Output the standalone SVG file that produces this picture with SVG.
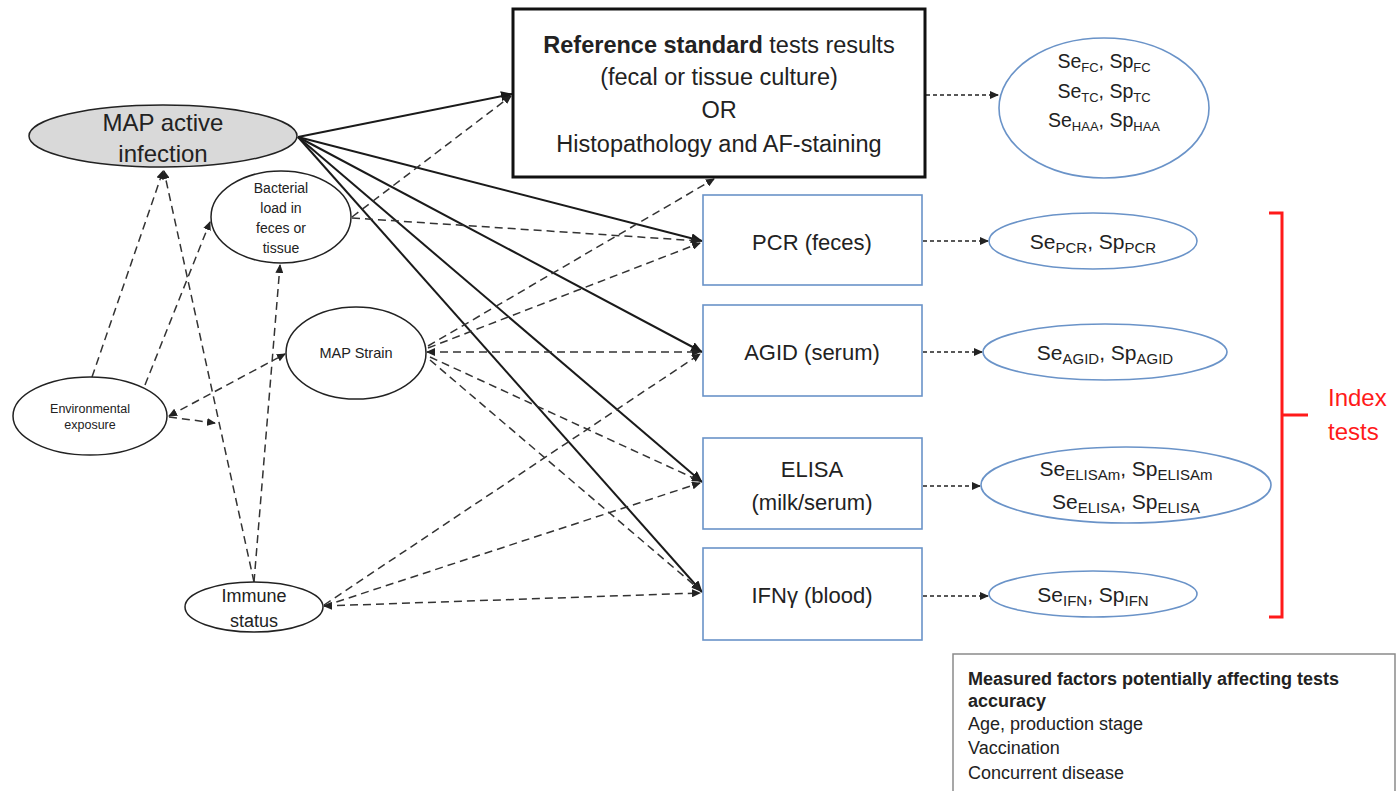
<svg xmlns="http://www.w3.org/2000/svg" width="1397" height="791" viewBox="0 0 1397 791">
  <style>
    text { font-family: "Liberation Sans", Arial, sans-serif; fill: #222; }
    .node { fill: #fff; stroke: #222; stroke-width: 1.5; }
    .blue { fill: #fff; stroke: #6a93c8; stroke-width: 1.6; }
    .solid { stroke: #1a1a1a; stroke-width: 2; fill: none; marker-end: url(#headBig); }
    .dash { stroke: #333; stroke-width: 1.5; fill: none; stroke-dasharray: 8 5; }
    .dash.to { marker-end: url(#headSmall); }
    .dash.from { marker-start: url(#headSmallRev); }
    .res { stroke: #222; stroke-width: 1.5; fill: none; stroke-dasharray: 4 3; marker-end: url(#headSmall); }
    .c { text-anchor: middle; }
    .sub { font-size: 13px; }
    .acc { font-size: 21px; }
    .acc .sub { font-size: 15px; }
  </style>
  <defs>
    <marker id="headBig" markerUnits="userSpaceOnUse" markerWidth="12" markerHeight="10" refX="11" refY="5" orient="auto">
      <path d="M0,0 L12,5 L0,10 Z" fill="#1a1a1a"/>
    </marker>
    <marker id="headSmall" markerUnits="userSpaceOnUse" markerWidth="9" markerHeight="8" refX="8" refY="4" orient="auto">
      <path d="M0,0 L9,4 L0,8 Z" fill="#222"/>
    </marker>
    <marker id="headSmallRev" markerUnits="userSpaceOnUse" markerWidth="9" markerHeight="8" refX="1" refY="4" orient="auto">
      <path d="M9,0 L0,4 L9,8 Z" fill="#222"/>
    </marker>
  </defs>

  <!-- connectors -->
  <g id="connectors">
    <!-- direct effects of active infection on every test -->
    <line class="solid" x1="298" y1="137" x2="512" y2="94"/>
    <line class="solid" x1="298" y1="137" x2="702" y2="241"/>
    <line class="solid" x1="298" y1="137" x2="702" y2="352"/>
    <line class="solid" x1="298" y1="137" x2="702" y2="482"/>
    <line class="solid" x1="298" y1="137" x2="702" y2="592"/>

    <!-- covariate paths -->
    <line class="dash to" x1="92" y1="377" x2="163" y2="171"/>
    <line class="dash to" x1="254" y1="582" x2="164" y2="171"/>
    <line class="dash to" x1="254" y1="582" x2="280" y2="265"/>
    <line class="dash to" x1="145" y1="385" x2="210" y2="222"/>
    <line class="dash to from" x1="169" y1="416" x2="285" y2="354"/>
    <line class="dash to" x1="169" y1="417" x2="215" y2="423"/>
    <line class="dash to" x1="352" y1="217" x2="511" y2="96"/>
    <line class="dash to" x1="352" y1="218" x2="700" y2="241"/>
    <line class="dash to" x1="428" y1="346" x2="714" y2="179"/>
    <line class="dash to" x1="428" y1="348" x2="700" y2="243"/>
    <line class="dash to from" x1="427" y1="352" x2="700" y2="352"/>
    <line class="dash to" x1="430" y1="357" x2="700" y2="481"/>
    <line class="dash to" x1="430" y1="360" x2="700" y2="590"/>
    <line class="dash to" x1="324" y1="605" x2="700" y2="354"/>
    <line class="dash to" x1="324" y1="606" x2="700" y2="483"/>
    <line class="dash to from" x1="324" y1="606" x2="700" y2="593"/>

    <!-- tests to accuracy parameters -->
    <line class="res" x1="926" y1="95" x2="998" y2="95"/>
    <line class="res" x1="923" y1="241" x2="988" y2="241"/>
    <line class="res" x1="923" y1="352" x2="982" y2="352"/>
    <line class="res" x1="923" y1="486" x2="980" y2="486"/>
    <line class="res" x1="923" y1="596" x2="988" y2="596"/>
  </g>

  <!-- latent and contextual variables -->
  <g id="map-infection">
    <ellipse cx="163" cy="136" rx="134" ry="31" fill="#d9d9d9" stroke="#222" stroke-width="1.5"/>
    <text class="c" x="163" y="131" font-size="24">MAP active</text>
    <text class="c" x="163" y="162" font-size="24">infection</text>
  </g>
  <g id="bacterial-load">
    <ellipse class="node" cx="281" cy="217" rx="70" ry="46"/>
    <text class="c" x="281" y="193" font-size="14">Bacterial</text>
    <text class="c" x="281" y="213" font-size="14">load in</text>
    <text class="c" x="281" y="233" font-size="14">feces or</text>
    <text class="c" x="281" y="253" font-size="14">tissue</text>
  </g>
  <g id="map-strain">
    <ellipse class="node" cx="356" cy="353" rx="70" ry="46"/>
    <text class="c" x="356" y="358" font-size="14.5">MAP Strain</text>
  </g>
  <g id="environmental-exposure">
    <ellipse class="node" cx="90" cy="416" rx="77" ry="39"/>
    <text class="c" x="90" y="413" font-size="12.5">Environmental</text>
    <text class="c" x="90" y="429" font-size="12.5">exposure</text>
  </g>
  <g id="immune-status">
    <ellipse class="node" cx="254" cy="607" rx="69" ry="25"/>
    <text class="c" x="254" y="602" font-size="18">Immune</text>
    <text class="c" x="254" y="627" font-size="18">status</text>
  </g>

  <!-- reference standard -->
  <g id="reference-standard">
    <rect x="513" y="9" width="412" height="168" fill="#fff" stroke="#111" stroke-width="3"/>
    <text class="c" x="719" y="53" font-size="23.5"><tspan font-weight="bold">Reference standard</tspan> tests results</text>
    <text class="c" x="719" y="85" font-size="23.5">(fecal or tissue culture)</text>
    <text class="c" x="719" y="118" font-size="23.5">OR</text>
    <text class="c" x="719" y="152" font-size="23.5">Histopathology and AF-staining</text>
  </g>

  <!-- index tests -->
  <g id="test-pcr">
    <rect class="blue" x="703" y="195" width="219" height="90"/>
    <text class="c" x="812" y="250" font-size="22">PCR (feces)</text>
  </g>
  <g id="test-agid">
    <rect class="blue" x="703" y="305" width="219" height="91"/>
    <text class="c" x="812" y="360" font-size="22">AGID (serum)</text>
  </g>
  <g id="test-elisa">
    <rect class="blue" x="703" y="438" width="219" height="91"/>
    <text class="c" x="812" y="477" font-size="22">ELISA</text>
    <text class="c" x="812" y="510" font-size="22">(milk/serum)</text>
  </g>
  <g id="test-ifn">
    <rect class="blue" x="703" y="548" width="219" height="92"/>
    <text class="c" x="812" y="603" font-size="22">IFNγ (blood)</text>
  </g>

  <!-- accuracy parameters -->
  <g id="acc-reference">
    <ellipse class="blue" cx="1104" cy="108" rx="105" ry="70"/>
    <text class="c" x="1104" y="68" font-size="19.5">Se<tspan class="sub" dy="4">FC</tspan><tspan dy="-4">, Sp</tspan><tspan class="sub" dy="4">FC</tspan></text>
    <text class="c" x="1104" y="98" font-size="19.5">Se<tspan class="sub" dy="4">TC</tspan><tspan dy="-4">, Sp</tspan><tspan class="sub" dy="4">TC</tspan></text>
    <text class="c" x="1104" y="127" font-size="19.5">Se<tspan class="sub" dy="4">HAA</tspan><tspan dy="-4">, Sp</tspan><tspan class="sub" dy="4">HAA</tspan></text>
  </g>
  <g id="acc-pcr">
    <ellipse class="blue" cx="1093" cy="241" rx="104" ry="28"/>
    <text class="c acc" x="1093" y="249">Se<tspan class="sub" dy="4">PCR</tspan><tspan dy="-4">, Sp</tspan><tspan class="sub" dy="4">PCR</tspan></text>
  </g>
  <g id="acc-agid">
    <ellipse class="blue" cx="1105" cy="352" rx="122" ry="28"/>
    <text class="c acc" x="1105" y="360">Se<tspan class="sub" dy="4">AGID</tspan><tspan dy="-4">, Sp</tspan><tspan class="sub" dy="4">AGID</tspan></text>
  </g>
  <g id="acc-elisa">
    <ellipse class="blue" cx="1126" cy="485" rx="145" ry="38"/>
    <text class="c acc" x="1126" y="476">Se<tspan class="sub" dy="4">ELISAm</tspan><tspan dy="-4">, Sp</tspan><tspan class="sub" dy="4">ELISAm</tspan></text>
    <text class="c acc" x="1126" y="509">Se<tspan class="sub" dy="4">ELISA</tspan><tspan dy="-4">, Sp</tspan><tspan class="sub" dy="4">ELISA</tspan></text>
  </g>
  <g id="acc-ifn">
    <ellipse class="blue" cx="1093" cy="594" rx="104" ry="23"/>
    <text class="c acc" x="1093" y="602">Se<tspan class="sub" dy="4">IFN</tspan><tspan dy="-4">, Sp</tspan><tspan class="sub" dy="4">IFN</tspan></text>
  </g>

  <!-- bracket grouping the index tests -->
  <g id="index-tests">
    <path d="M1269,213 H1282 V617 H1269 M1282,415 H1308" fill="none" stroke="#ff1a1a" stroke-width="3"/>
    <text x="1328" y="406" font-size="24" style="fill:#ff1a1a">Index</text>
    <text x="1328" y="440" font-size="24" style="fill:#ff1a1a">tests</text>
  </g>

  <!-- legend of measured covariates -->
  <g id="measured-factors">
    <rect x="953" y="654" width="442" height="150" fill="#fff" stroke="#8a8a8a" stroke-width="1.5"/>
    <text x="968" y="685" font-size="18" font-weight="bold">Measured factors potentially affecting tests</text>
    <text x="968" y="707" font-size="18" font-weight="bold">accuracy</text>
    <text x="968" y="730" font-size="18">Age, production stage</text>
    <text x="968" y="754" font-size="18">Vaccination</text>
    <text x="968" y="779" font-size="18">Concurrent disease</text>
  </g>
</svg>
